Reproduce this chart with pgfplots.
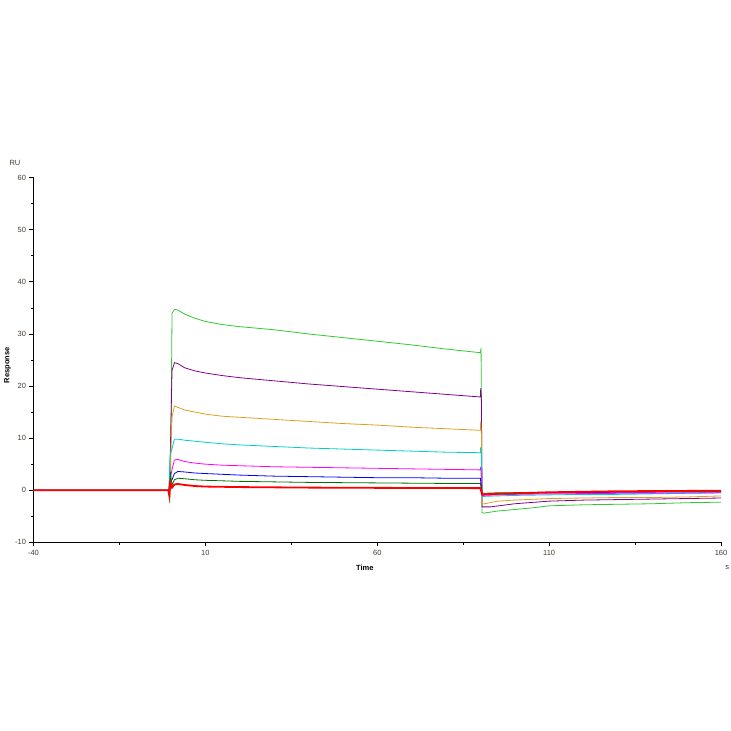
\documentclass[border=0pt]{standalone}
\usepackage{fontspec}
\setmainfont{Liberation Sans}
\usepackage{pgfplots}
\pgfplotsset{compat=1.18}
\definecolor{cgreen}{RGB}{50,200,50}
\definecolor{cpurple}{RGB}{130,0,140}
\definecolor{corange}{RGB}{220,160,30}
\definecolor{ccyan}{RGB}{0,205,210}
\definecolor{cmag}{RGB}{255,0,255}
\definecolor{cblue}{RGB}{0,0,255}
\definecolor{cdkgreen}{RGB}{0,110,0}
\definecolor{cred}{RGB}{255,0,0}
\definecolor{tickc}{RGB}{70,60,50}
\begin{document}
\begin{tikzpicture}
\begin{axis}[
    name=ax,
    scale only axis,
    width=687.5pt, height=364.6pt,
    xmin=-40, xmax=160, ymin=-10, ymax=60,
    axis x line*=bottom, axis y line*=left,
    axis line style={-, black, line width=0.9pt},
    xtick={-40,10,60,110,160},
    minor xtick={-15,35,85,135},
    ytick={-10,0,...,60},
    minor ytick={-5,5,...,55},
    tick align=outside,
    major tick length=4pt, minor tick length=2.5pt,
    tick style={black, line width=0.8pt},
    ticklabel style={font=\fontsize{7.5}{9}\selectfont, text=tickc},
    /pgf/number format/assume math mode=true,
    clip=false,
    every axis plot/.append style={line width=0.8pt, line join=miter},
]
% green
\addplot[cgreen] coordinates {(-40,0) (-0.6,0) (-0.4,-2.5) (-0.1,3) (0.3,34) (1,34.7) (2,34.6) (4,33.8) (7,33.0) (10,32.4) (15,31.8) (20,31.4) (30,30.8) (40,30.0) (50,29.3) (60,28.6) (70,27.9) (80,27.1) (90,26.4) (90.2,27.3) (90.5,-4.3) (91,-4.4) (95,-4.0) (100,-3.7) (105,-3.4) (110,-3.0) (120,-2.8) (130,-2.7) (140,-2.6) (150,-2.4) (160,-2.3)};
% purple
\addplot[cpurple] coordinates {(-40,0) (-0.6,0) (-0.3,4) (0.3,23) (1,24.5) (2,24.3) (4,23.5) (7,22.9) (10,22.5) (15,22.0) (20,21.6) (30,21.0) (40,20.4) (50,19.9) (60,19.4) (70,18.9) (80,18.4) (90,17.9) (90.1,19.6) (90.3,17.2) (90.5,-3.2) (93,-3.2) (100,-2.6) (110,-2.1) (120,-1.9) (140,-1.7) (160,-1.5)};
% orange
\addplot[corange] coordinates {(-40,0) (-0.6,0) (-0.3,3) (0.3,14) (1,16.2) (2,15.9) (4,15.4) (7,15.0) (10,14.6) (15,14.2) (20,14.0) (30,13.6) (40,13.2) (50,12.8) (60,12.5) (70,12.1) (80,11.8) (90,11.5) (90.1,13.2) (90.3,10.8) (90.5,-2.7) (95,-2.1) (100,-1.9) (110,-1.6) (120,-1.5) (130,-1.4) (140,-1.4) (150,-1.3) (160,-1.1)};
% cyan
\addplot[ccyan] coordinates {(-40,0) (-0.6,0) (-0.3,6.5) (0.3,8) (1,9.8) (2,9.8) (4,9.6) (7,9.4) (10,9.2) (15,8.9) (20,8.7) (30,8.4) (40,8.1) (50,7.9) (60,7.7) (70,7.5) (80,7.3) (90,7.2) (90.1,8.3) (90.3,6.5) (90.5,-1.2) (95,-1.1) (100,-1.0) (110,-0.9) (120,-0.8) (130,-0.8) (140,-0.7) (150,-0.6) (160,-0.5)};
% magenta
\addplot[cmag] coordinates {(-40,0) (-0.6,0) (-0.3,2) (0.3,4) (1,5.8) (2,5.9) (4,5.5) (7,5.2) (10,5.0) (15,4.8) (20,4.7) (30,4.5) (40,4.4) (50,4.3) (60,4.2) (70,4.1) (80,4.0) (90,3.9) (90.1,4.5) (90.5,-1.0) (95,-0.9) (100,-0.8) (110,-0.7) (130,-0.6) (160,-0.5)};
% blue
\addplot[cblue] coordinates {(-40,0) (-0.6,0) (-0.3,1.5) (0.3,2) (1,3.2) (2,3.6) (4,3.5) (7,3.3) (10,3.2) (20,2.9) (30,2.7) (40,2.6) (50,2.5) (60,2.4) (70,2.4) (80,2.3) (90,2.3) (90.5,-0.8) (95,-0.7) (110,-0.5) (130,-0.4) (160,-0.3)};
% dark green
\addplot[cdkgreen] coordinates {(-40,0) (-0.6,0) (-0.4,-1.5) (-0.2,3.5) (0.3,1) (1,2) (2,2.3) (4,2.2) (7,2.0) (10,1.9) (20,1.7) (30,1.6) (40,1.5) (50,1.45) (60,1.4) (70,1.35) (80,1.3) (90,1.3) (90.5,-0.6) (95,-0.5) (110,-0.4) (130,-0.3) (160,-0.2)};
% red
\addplot[cred, line width=1.8pt] coordinates {(-40,0) (-0.8,0) (-0.5,-1) (-0.2,1.5) (0.3,0.5) (1,1.1) (2,1.2) (4,1.0) (7,0.8) (10,0.7) (20,0.6) (30,0.55) (40,0.5) (60,0.45) (90,0.4) (90.5,-0.8) (95,-0.7) (110,-0.4) (130,-0.2) (160,-0.1)};
\node[font=\fontsize{7.5}{9}\selectfont, text=tickc] at ([xshift=-18.5pt,yshift=14.7pt]rel axis cs:0,1) {RU};
\node[font=\fontsize{7.5}{9}\selectfont\bfseries, rotate=90] at ([xshift=-26pt]rel axis cs:0,0.486) {Response};
\node[font=\fontsize{7.5}{9}\selectfont\bfseries] at ([yshift=-25.7pt]rel axis cs:0.482,0) {Time};
\node[font=\fontsize{7.5}{9}\selectfont, text=tickc] at ([yshift=-25.7pt]rel axis cs:1.009,0) {s};
\end{axis}
\pgfresetboundingbox
\path[use as bounding box] ([shift={(-33.5pt,-188.7pt)}]ax.south west) rectangle ([shift={(10pt,177.7pt)}]ax.north east);
\end{tikzpicture}
\end{document}
